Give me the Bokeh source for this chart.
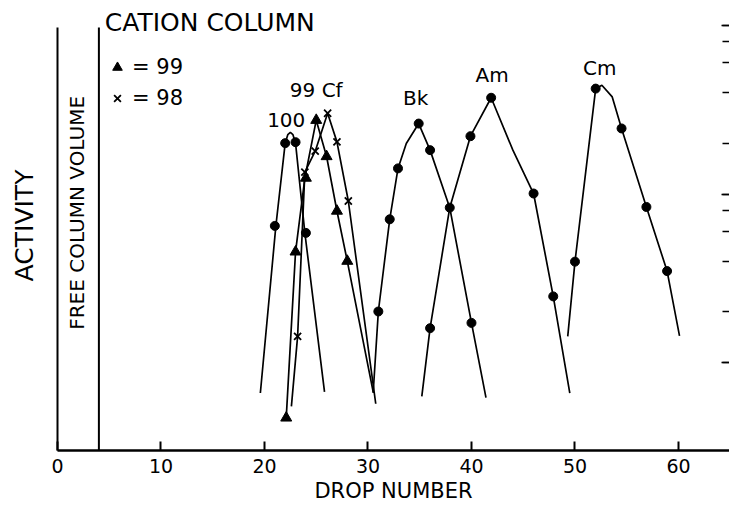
import math
from bokeh.plotting import figure
from bokeh.models import (Range1d, LogAxis, FixedTicker, LogTicker, Label,
                          Legend, LegendItem, CustomJSTickFormatter)
from bokeh.embed import file_html
from bokeh.resources import INLINE

FONT = "DejaVu Sans"

# ---------------- data ----------------
x_ticks = [0, 10, 20, 30, 40, 50, 60]
free_column_drop = 4

# measured points: drop number / activity (arbitrary log units)
drop_100 = [21, 22, 23, 24]
act_100 = [647, 2003, 2030, 588]

drop_99 = [22.1, 23, 24, 25, 26, 27, 28]
act_99 = [47, 454, 1244, 2741, 1670, 793, 400]

drop_98 = [23.2, 23.9, 24.9, 26.1, 27, 28.1]
act_98 = [143, 1349, 1796, 3014, 2039, 909]

drop_bk = [31, 32.1, 32.9, 34.9, 36, 40]
act_bk = [201, 708, 1419, 2618, 1821, 172]

drop_am = [36, 37.9, 39.9, 41.9, 46, 47.9]
act_am = [160, 830, 2203, 3724, 1007, 247]

drop_cm = [50, 52, 54.5, 56.9, 58.9]
act_cm = [397, 4220, 2449, 838, 349]

# hand-drawn elution curves (vertices)
curve_100_x = [19.6, 21.1, 22.0, 22.25, 22.5, 22.75, 23.0, 23.9, 25.8]
curve_100_y = [66, 647, 2003, 2250, 2320, 2250, 2003, 588, 67]

curve_99_x = [22.1, 23.0, 23.9, 25.0, 26.0, 27.0, 28.0, 30.5]
curve_99_y = [47, 454, 1244, 2741, 1670, 793, 400, 67]

curve_98_x = [22.6, 23.2, 23.9, 24.9, 26.1, 27.0, 28.1, 30.75]
curve_98_y = [55, 143, 1349, 1796, 3014, 2039, 909, 57]

curve_bk_x = [30.5, 31.0, 32.1, 32.9, 33.7, 34.9, 36.0, 37.9, 40.0, 41.4]
curve_bk_y = [66, 201, 708, 1419, 1995, 2618, 1821, 830, 172, 62]

curve_am_x = [35.2, 36.0, 37.9, 39.9, 41.9, 44.0, 46.0, 47.9, 49.5]
curve_am_y = [63, 160, 830, 2203, 3724, 1820, 1007, 247, 66]

curve_cm_x = [49.3, 50.0, 52.0, 52.6, 53.6, 54.5, 56.9, 58.9, 60.1]
curve_cm_y = [143, 397, 4220, 4420, 3767, 2449, 838, 349, 144]

peak_labels = ["100", "99 Cf", "Bk", "Am", "Cm"]
peak_label_x = [22.1, 25.0, 34.6, 42.0, 52.4]
peak_label_y = [2742, 4140, 3724, 5058, 5610]

X_MAX = 64.93
Y_MIN, Y_MAX = 30.1, 14060
AXIS_TOP = 9727

# ---------------- figure ----------------
p = figure(width=729, height=505,
           x_range=Range1d(0, X_MAX), y_range=Range1d(Y_MIN, Y_MAX),
           y_axis_type="log", output_backend="svg", toolbar_location=None,
           min_border_left=57, min_border_right=0, min_border_top=0,
           min_border_bottom=54)
p.title.visible = False
p.xgrid.visible = False
p.ygrid.visible = False
p.outline_line_color = None
p.background_fill_color = "white"
p.border_fill_color = "white"

# bottom axis
xa = p.xaxis[0]
xa.ticker = FixedTicker(ticks=x_ticks)
xa.major_tick_in = 9
xa.major_tick_out = 0
xa.minor_tick_in = 0
xa.minor_tick_out = 0
xa.axis_line_width = 2.5
xa.major_tick_line_width = 2
xa.major_label_text_font = FONT
xa.major_label_text_font_size = "19px"
xa.major_label_text_color = "black"
xa.major_label_standoff = 8
xa.axis_label = "DROP NUMBER"
xa.axis_label_text_font = FONT
xa.axis_label_text_font_size = "21px"
xa.axis_label_text_font_style = "normal"
xa.axis_label_text_color = "black"
xa.axis_label_standoff = 3

# left axis: plain line + label
la = p.left[0]
la.ticker = FixedTicker(ticks=[], minor_ticks=[])
la.major_tick_in = 0
la.major_tick_out = 0
la.minor_tick_in = 0
la.minor_tick_out = 0
la.major_label_standoff = 0
la.axis_line_width = 2
la.bounds = (Y_MIN, AXIS_TOP)
la.axis_label = "ACTIVITY"
la.axis_label_text_font = FONT
la.axis_label_text_font_size = "25px"
la.axis_label_text_font_style = "normal"
la.axis_label_text_color = "black"
la.axis_label_standoff = 19

# right log axis: inward ticks only, no labels
ra = LogAxis(ticker=LogTicker(), bounds=(100, Y_MAX),
             formatter=CustomJSTickFormatter(code="return ''"))
ra.axis_line_color = None
ra.major_tick_in = 8
ra.major_tick_out = 0
ra.minor_tick_in = 7
ra.minor_tick_out = 0
ra.major_tick_line_width = 1.6
ra.minor_tick_line_width = 1.6
ra.major_label_standoff = 0
p.add_layout(ra, "right")

# free column volume marker line
p.segment(x0=[free_column_drop], x1=[free_column_drop], y0=[Y_MIN], y1=[AXIS_TOP],
          line_color="black", line_width=2)

# curves
LW = 1.7
for cx, cy in [(curve_100_x, curve_100_y), (curve_99_x, curve_99_y),
               (curve_98_x, curve_98_y), (curve_bk_x, curve_bk_y),
               (curve_am_x, curve_am_y), (curve_cm_x, curve_cm_y)]:
    p.line(cx, cy, line_color="black", line_width=LW)

# points
for dx, dy in [(drop_100, act_100), (drop_bk, act_bk), (drop_am, act_am), (drop_cm, act_cm)]:
    p.scatter(dx, dy, marker="circle", size=9, fill_color="black", line_color="black")
r99 = p.scatter(drop_99, act_99, marker="triangle", size=11,
                fill_color="black", line_color="black")
r98 = p.scatter(drop_98, act_98, marker="x", size=10, line_color="black", line_width=1.8)

# legend
leg = Legend(items=[LegendItem(label="= 99", renderers=[r99]),
                    LegendItem(label="= 98", renderers=[r98])],
             location=(48, 340), orientation="vertical",
             glyph_width=24, glyph_height=24, label_height=24,
             label_standoff=3, spacing=7, padding=0, margin=0,
             label_text_font=FONT, label_text_font_size="21px",
             label_text_color="black",
             background_fill_alpha=0, border_line_color=None)
p.add_layout(leg)

# texts
for t, lx, ly in zip(peak_labels, peak_label_x, peak_label_y):
    p.add_layout(Label(x=lx, y=ly, text=t, text_font=FONT, text_font_size="20px",
                       text_align="center", text_baseline="middle", text_color="black"))

p.add_layout(Label(x=4.57, y=10471, text="CATION COLUMN", text_font=FONT,
                   text_font_size="25px", text_align="left", text_baseline="middle",
                   text_color="black"))
p.add_layout(Label(x=1.86, y=773, text="FREE COLUMN VOLUME", text_font=FONT,
                   text_font_size="20px", text_align="center", text_baseline="middle",
                   angle=math.pi / 2, text_color="black"))

open("out.html", "w").write(file_html(p, INLINE))
